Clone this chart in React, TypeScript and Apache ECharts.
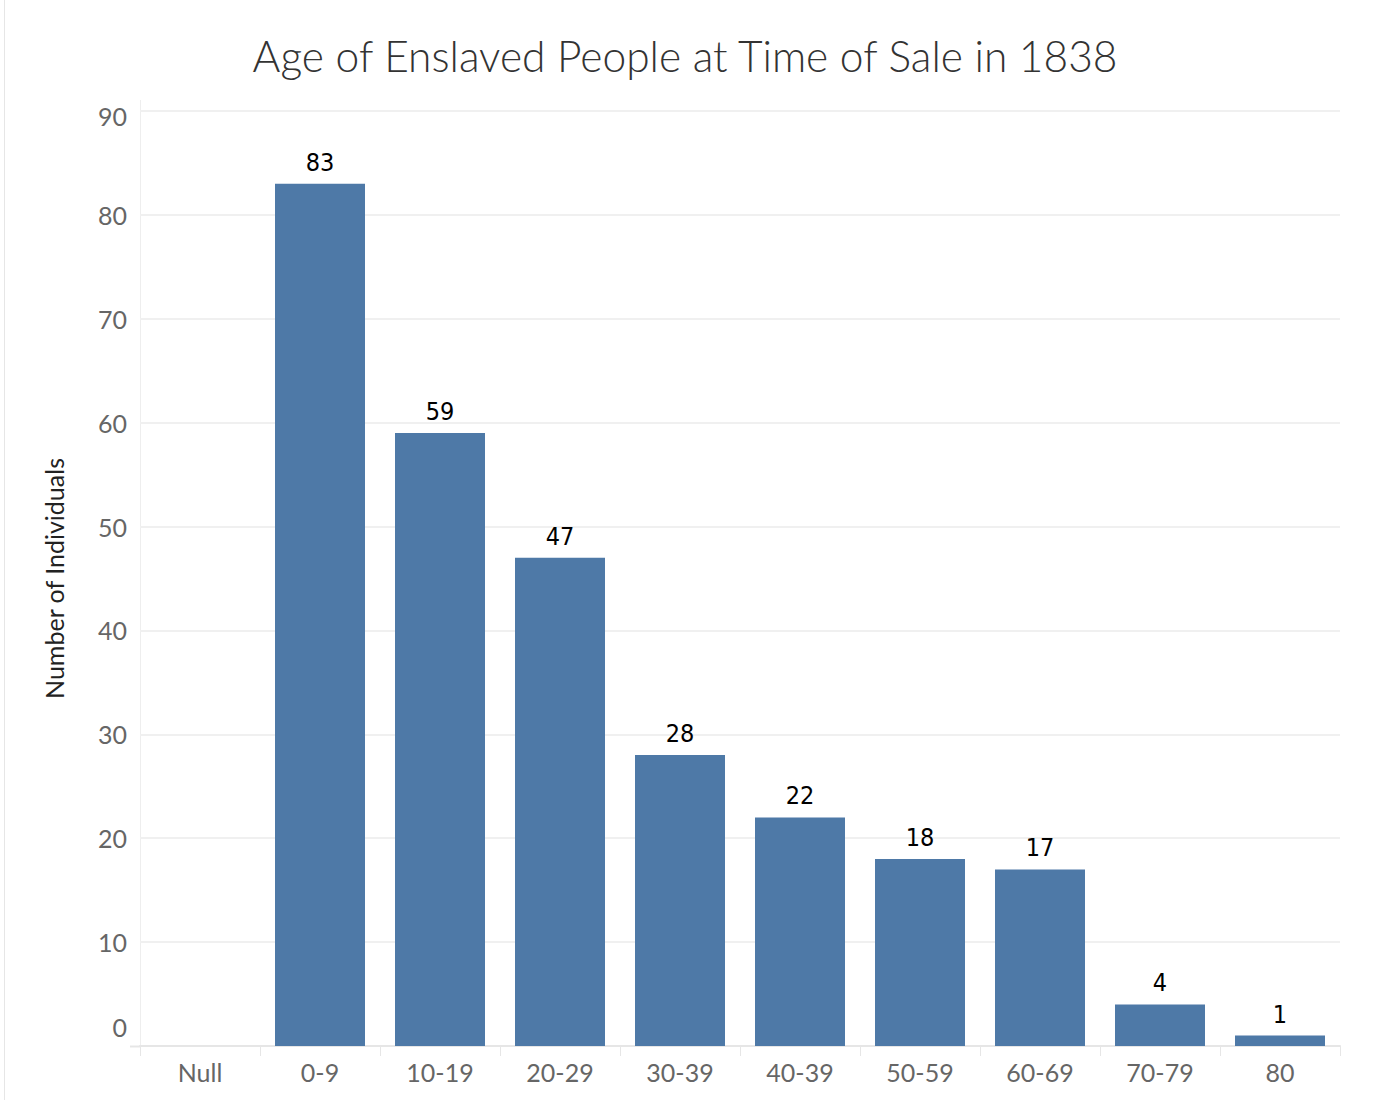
import React, { useEffect, useRef } from "react";
import * as echarts from "echarts";

const categories = ["Null", "0-9", "10-19", "20-29", "30-39", "40-39", "50-59", "60-69", "70-79", "80"];
const counts: (number | null)[] = [null, 83, 59, 47, 28, 22, 18, 17, 4, 1];
const titleText = "Age of Enslaved People at Time of Sale in 1838";
const yAxisTitle = "Number of Individuals";

export default function App() {
  const ref = useRef<HTMLDivElement>(null);
  useEffect(() => {
    document.body.style.margin = "0";
    const chart = echarts.init(ref.current!, undefined, { renderer: "svg" });
    const tickFont = "Lato, 'Open Sans', sans-serif";
    chart.setOption({
      animation: false,
      backgroundColor: "#ffffff",
      title: {
        text: titleText,
        left: 680,
        textAlign: "center",
        top: 29,
        textStyle: {
          fontFamily: "Lato, 'Open Sans', sans-serif",
          fontWeight: 300,
          fontSize: 42.5,
          color: "#333333",
        },
      },
      grid: { left: 140, right: 60, top: 111, bottom: 54 },
      graphic: [
        { type: "line", shape: { x1: 4.5, y1: 0, x2: 4.5, y2: 1100 }, style: { stroke: "#e6e6e6", lineWidth: 1 } },
        { type: "line", shape: { x1: 140.5, y1: 100, x2: 140.5, y2: 1046 }, style: { stroke: "#eeeeee", lineWidth: 1 } },
        { type: "line", shape: { x1: 130, y1: 1046.5, x2: 140, y2: 1046.5 }, style: { stroke: "#e6e6e6", lineWidth: 2 } },
      ],
      xAxis: {
        type: "category",
        data: categories,
        axisLine: { show: true, lineStyle: { color: "#e6e6e6", width: 2 } },
        axisTick: { show: true, alignWithLabel: false, length: 10, lineStyle: { color: "#e6e6e6", width: 1 } },
        axisLabel: { color: "#666666", fontSize: 25, fontFamily: tickFont, margin: 13 },
        splitLine: { show: false },
      },
      yAxis: {
        type: "value",
        min: 0,
        max: 90,
        interval: 10,
        name: yAxisTitle,
        nameLocation: "middle",
        nameGap: 74,
        nameRotate: 90,
        nameTextStyle: { color: "#222222", fontSize: 25, fontFamily: tickFont },
        axisLine: { show: false },
        axisTick: { show: false },
        axisLabel: {
          color: "#666666",
          fontSize: 25,
          fontFamily: tickFont,
          margin: 13,
          formatter: (v: number) => (v === 0 ? "{z|0}" : v === 90 ? "{t|90}" : String(v)),
          rich: {
            z: { fontSize: 25, fontFamily: tickFont, color: "#666666", padding: [0, 0, 38, 0] },
            t: { fontSize: 25, fontFamily: tickFont, color: "#666666", padding: [10, 0, 0, 0] },
          },
        },
        splitLine: { show: true, lineStyle: { color: "#f0f0f0", width: 2 } },
      },
      series: [
        {
          type: "bar",
          data: counts,
          barCategoryGap: "25%",
          itemStyle: { color: "#4e79a7" },
          label: {
            show: true,
            position: "top",
            distance: 9,
            color: "#000000",
            fontSize: 25,
            fontFamily: "'Liberation Sans Narrow', 'DejaVu Sans Condensed', sans-serif",
          },
        },
      ],
    });
    return () => chart.dispose();
  }, []);
  return <div ref={ref} style={{ width: 1400, height: 1100 }} />;
}
